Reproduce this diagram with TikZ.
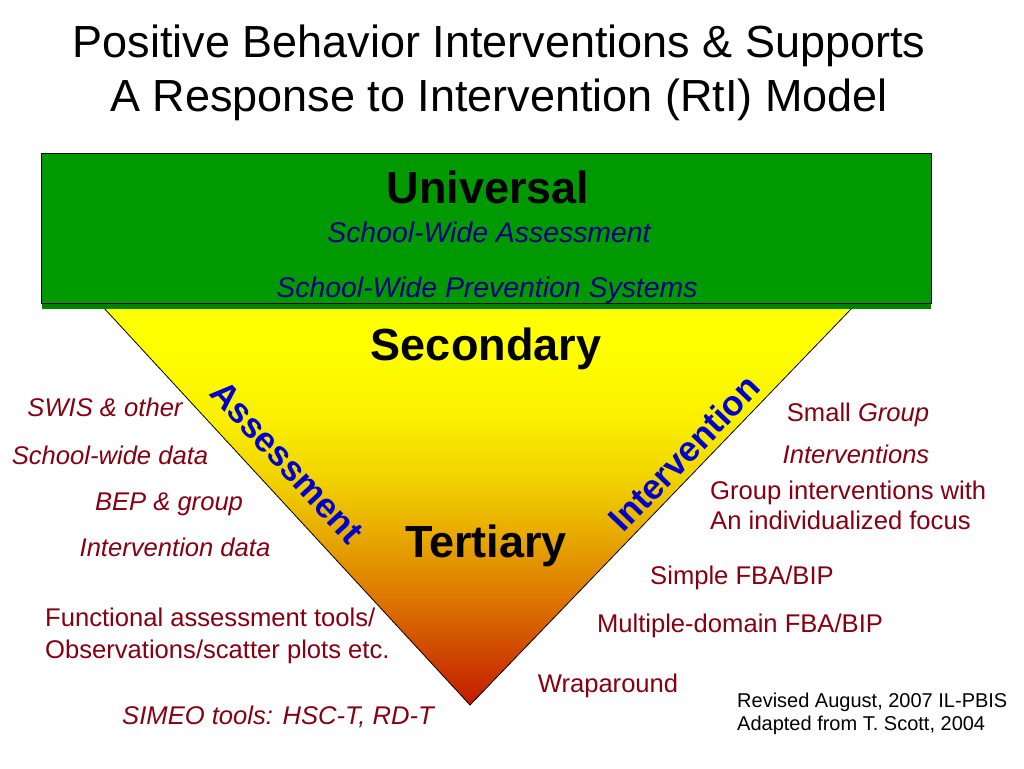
\documentclass[tikz,border=0pt]{standalone}
\usepackage{fontspec}
\setmainfont{Liberation Sans}
\definecolor{boxgreen}{HTML}{009900}
\definecolor{navy}{HTML}{000080}
\definecolor{edgeblue}{HTML}{0000CC}
\definecolor{dred}{HTML}{850010}
\definecolor{tred}{HTML}{C41A00}
\definecolor{tora1}{HTML}{D04A00}
\definecolor{tora2}{HTML}{DC7400}
\definecolor{tgold}{HTML}{E6A400}
\definecolor{tgold2}{HTML}{F0D000}
\definecolor{tyel}{HTML}{FAF000}
\definecolor{tyel2}{HTML}{FFFF00}
\pgfdeclareverticalshading{pyr}{100bp}{color(0bp)=(tred); color(25bp)=(tred); color(32bp)=(tora1); color(38bp)=(tora2); color(45.5bp)=(tgold); color(53bp)=(tgold2); color(61bp)=(tyel); color(70bp)=(tyel2); color(100bp)=(tyel2)}
\tikzset{
  x=1pt,y=-1pt,
  fs/.style={font=\fontsize{#1}{#1}\selectfont},
  title/.style={fs=45,anchor=base,inner sep=0pt},
  tier/.style={font=\fontsize{45}{45}\selectfont\bfseries,anchor=base,inner sep=0pt},
  sub/.style={font=\fontsize{28.4}{28.4}\selectfont\itshape,text=navy,anchor=base,inner sep=0pt},
  side/.style={font=\fontsize{25.6}{25.6}\selectfont,text=dred,anchor=base,inner sep=0pt},
  sideit/.style={side,font=\fontsize{25.6}{25.6}\selectfont\itshape},
  edgelab/.style={font=\fontsize{35}{35}\selectfont\bfseries,text=edgeblue,inner sep=0pt},
  note/.style={fs=20,anchor=base west,inner sep=0pt,align=left},
}
\begin{document}
\begin{tikzpicture}
\useasboundingbox (0,0) rectangle (1024,768);
% pyramid
\path[shading=pyr,draw=black,line width=0.8pt] (103,307) -- (853,307) -- (470,705) -- cycle;
% green box
\fill[boxgreen!85!black] (42,302) rectangle (931,309);
\path[fill=boxgreen,draw=black,line width=0.8pt] (41,153) rectangle (931,303);
% title
\node[title] (t1) at (499,58) {Positive Behavior Interventions \& Supports};
\node[title] (t2) at (499,111) {A Response to Intervention (RtI) Model};
% tiers
\node[tier] (uni) at (488,203) {Universal};
\node[sub] (swa) at (489,242) {School-Wide Assessment};
\node[sub] (swp) at (487,297) {School-Wide Prevention Systems};
\node[tier] (sec) at (486,360) {Secondary};
\node[tier] (ter) at (486,557) {Tertiary};
% edge labels
\node[edgelab,rotate=-47.3] (ass) at (287,462) {Assessment};
\node[edgelab,rotate=46.1] (int) at (684,453) {Intervention};
% left side
\node[sideit] (l1) at (105,416) {SWIS \& other};
\node[sideit] (l2) at (110,464) {School-wide data};
\node[sideit] (l3) at (169,510) {BEP \& group};
\node[sideit] (l4) at (175,556) {Intervention data};
\node[side,anchor=base west] (l5) at (45,626) {Functional assessment tools/};
\node[side,anchor=base west] (l6) at (45,658) {Observations/scatter plots etc.};
\node[sideit] (l7) at (278,724) {SIMEO tools: HSC-T, RD-T};
% right side
\node[side] (r1) at (858,421) {Small \textit{Group}};
\node[sideit] (r2) at (856,463) {Interventions};
\node[side,anchor=base west] (r3) at (710,499) {Group interventions with};
\node[side,anchor=base west] (r4) at (710,529) {An individualized focus};
\node[side] (r5) at (742,584) {Simple FBA/BIP};
\node[side] (r6) at (740,632) {Multiple-domain FBA/BIP};
\node[side] (r7) at (608,692) {Wraparound};
% note
\node[note] (n1) at (737,707) {Revised August, 2007 IL-PBIS};
\node[note] (n2) at (737,730) {Adapted from T. Scott, 2004};
\end{tikzpicture}
\end{document}
